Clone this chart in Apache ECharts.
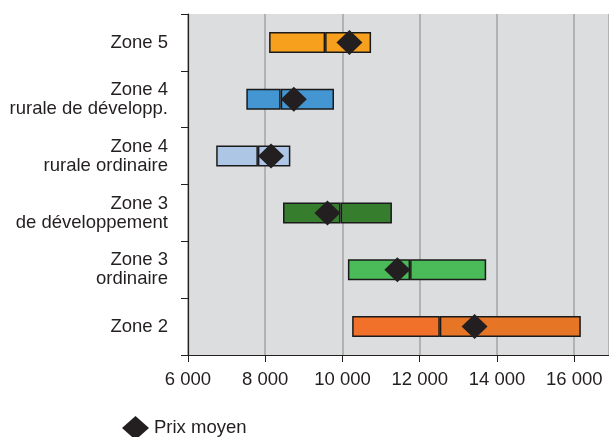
<!DOCTYPE html>
<html><head><meta charset="utf-8">
<script src="https://cdn.jsdelivr.net/npm/echarts@6/dist/echarts.min.js"></script>
<style>html,body{margin:0;padding:0;background:#fff}#c{width:609px;height:437px}</style>
</head><body><div id="c"></div>
<script>
const categories = ['Zone 5', 'Zone 4\nrurale de développ.', 'Zone 4\nrurale ordinaire', 'Zone 3\nde développement', 'Zone 3\nordinaire', 'Zone 2'];
const minPrice = [8100, 7510, 6730, 8460, 10140, 10250];
const medianPrice = [9550, 8400, 7810, 9950, 11750, 12520];
const maxPrice = [10740, 9780, 8650, 11280, 13720, 16170];
const meanPrice = [10180, 8740, 8150, 9610, 11420, 13420];
const lowColors = ['#F7A01E', '#4396D2', '#AEC6E6', '#367D2E', '#4BBA58', '#F2712A'];
const highColors = ['#F7A01E', '#4396D2', '#AEC6E6', '#367D2E', '#4BBA58', '#E67626'];
const xTicks = [6000, 8000, 10000, 12000, 14000, 16000];

const font = 'Liberation Sans, Arial, sans-serif';
const chart = echarts.init(document.getElementById('c'));
const border = {borderColor: '#1a1a1a', borderWidth: 1.5};
chart.setOption({
  animation: false,
  backgroundColor: '#fff',
  grid: {left: 188, top: 14, right: 0, height: 341, show: true, backgroundColor: '#DCDDDF', borderWidth: 0},
  xAxis: {
    type: 'value', min: 6000, max: 16900, interval: 2000,
    axisLine: {show: true, lineStyle: {color: '#231F20', width: 1.2}},
    axisTick: {show: true, length: 7, lineStyle: {color: '#231F20', width: 1}},
    splitLine: {show: true, lineStyle: {color: '#A3A3A3', width: 1.5}},
    axisLabel: {
      color: '#231F20', fontSize: 18.5, fontFamily: font, margin: 15, showMaxLabel: false,
      formatter: v => xTicks.includes(v) ? String(v).replace(/\B(?=(\d{3})+(?!\d))/g, ' ') : ''
    }
  },
  yAxis: {
    type: 'category', data: categories, inverse: true,
    axisLine: {show: true, lineStyle: {color: '#231F20', width: 1.2}},
    axisTick: {show: true, length: 7, lineStyle: {color: '#231F20', width: 1}},
    axisLabel: {color: '#231F20', fontSize: 18.5, fontFamily: font, margin: 20, lineHeight: 19, align: 'right'}
  },
  legend: {
    left: 117, top: 411, itemWidth: 27, itemHeight: 24, itemGap: 6,
    data: [{name: 'Prix moyen', icon: 'diamond'}],
    itemStyle: {opacity: 1},
    textStyle: {color: '#231F20', fontSize: 18.5, fontFamily: font}
  },
  series: [
    {type: 'bar', stack: 's', barWidth: 21, silent: true, data: minPrice,
     itemStyle: {color: 'transparent', borderWidth: 0}},
    {type: 'bar', stack: 's', barWidth: 21, data: medianPrice.map((m, i) => ({value: m - minPrice[i], itemStyle: {color: lowColors[i]}})),
     itemStyle: border},
    {type: 'bar', stack: 's', barWidth: 21, data: maxPrice.map((m, i) => ({value: m - medianPrice[i], itemStyle: {color: highColors[i]}})),
     itemStyle: border},
    {name: 'Prix moyen', type: 'scatter', symbol: 'diamond', symbolSize: [26, 25], z: 5,
     data: meanPrice.map((v, i) => [v, i]), itemStyle: {color: '#231F20', opacity: 1}}
  ]
});
</script></body></html>
